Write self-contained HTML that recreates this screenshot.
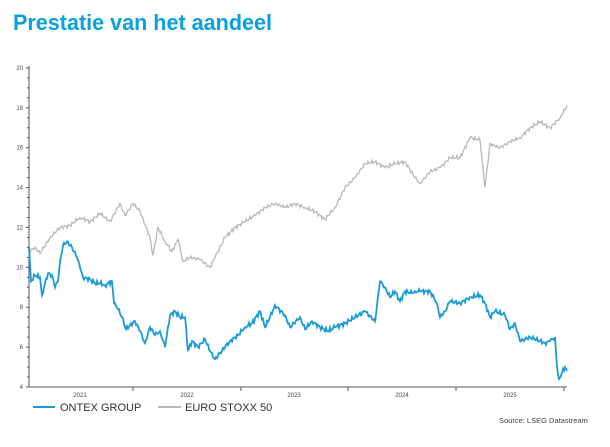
<!DOCTYPE html>
<html><head><meta charset="utf-8"><style>
html,body{margin:0;padding:0;background:#fff;}
body{width:610px;height:442px;overflow:hidden;}
</style></head><body>
<svg id="s" width="610" height="442" xmlns="http://www.w3.org/2000/svg" font-family="Liberation Sans, sans-serif">
<text x="13" y="30" font-size="22" font-weight="bold" fill="#0aa0e0" textLength="259" lengthAdjust="spacingAndGlyphs">Prestatie van het aandeel</text>
<g id="ax" stroke="#555" stroke-width="1" fill="none"></g>
<g id="lab" font-size="6" fill="#444"></g>
<path id="g" fill="none" stroke="#b8b8b8" stroke-width="1.3"/>
<path id="b" fill="none" stroke="#1a9ad6" stroke-width="1.8"/>
<line x1="33" y1="407" x2="55" y2="407" stroke="#1a9ad6" stroke-width="2"/>
<text x="60" y="411" font-size="11" fill="#333">ONTEX GROUP</text>
<line x1="158" y1="407" x2="181" y2="407" stroke="#b8b8b8" stroke-width="2"/>
<text x="185" y="411" font-size="11" fill="#333">EURO STOXX 50</text>
<text x="499" y="423" font-size="7.5" fill="#444">Source: LSEG Datastream</text>
</svg>
<script>
function Y(v){return 387-(v-4)*19.94;}
var ax=document.getElementById('ax'),lab=document.getElementById('lab'),h='',l='';
h+='<line x1="29" y1="66" x2="29" y2="387"/><line x1="29" y1="387" x2="567" y2="387"/>';
for(var v=4;v<=20;v+=0.5){var y=Y(v);h+='<line x1="'+(v%2==0?26:27)+'" y1="'+y+'" x2="29" y2="'+y+'"/>';if(v%2==0)l+='<text x="23" y="'+(y+2)+'" text-anchor="end">'+v+'</text>';}
[133,241,348,456,564].forEach(function(x){h+='<line x1="'+x+'" y1="387" x2="'+x+'" y2="391"/>';});
[[80,2021],[187,2022],[294,2023],[402,2024],[510,2025]].forEach(function(a){l+='<text x="'+a[0]+'" y="397" text-anchor="middle">'+a[1]+'</text>';});
ax.innerHTML=h;lab.innerHTML=l;
var G=[29,10.8,35,11.0,40,10.7,50,11.5,60,12.0,70,12.1,80,12.5,90,12.3,100,12.7,110,12.3,120,13.2,125,12.6,133,13.2,140,12.8,150,11.5,153,10.6,158,12.0,165,11.3,172,10.8,178,11.4,183,10.3,190,10.5,200,10.4,210,10.0,215,10.5,225,11.5,235,12.0,245,12.3,255,12.6,265,13.0,275,13.2,285,13.0,295,13.2,305,13.0,315,12.8,325,12.4,335,13.0,345,14.0,355,14.5,365,15.2,375,15.3,385,15.0,395,15.2,405,15.3,415,14.5,420,14.2,430,14.8,440,15.0,450,15.5,460,15.5,470,16.5,480,16.4,485,14.0,490,16.2,500,16.0,510,16.3,520,16.5,530,17.0,540,17.3,550,17.0,560,17.5,567,18.1];
var B=[29,11.0,31,9.3,35,9.6,40,9.5,42,8.6,45,9.2,48,9.7,52,9.6,55,9.0,58,9.3,60,10.3,63,11.1,67,11.3,72,11.0,77,10.5,80,10.0,83,9.5,90,9.4,95,9.2,100,9.2,105,9.1,112,9.3,114,8.2,118,7.9,122,7.5,126,6.9,130,7.1,135,7.3,140,6.8,145,6.2,150,7.0,155,6.6,160,6.8,165,6.0,170,7.6,175,7.8,180,7.5,185,7.5,188,5.8,192,6.3,198,6.0,205,6.4,210,5.8,215,5.4,220,5.7,225,6.0,230,6.3,238,6.6,245,7.0,252,7.2,260,7.8,265,7.0,270,7.5,275,8.1,285,7.6,290,7.0,300,7.5,305,6.9,312,7.3,320,7.0,328,6.8,335,7.0,345,7.2,355,7.5,365,7.8,375,7.3,380,9.3,385,9.0,390,8.5,395,8.8,400,8.3,405,8.8,410,8.7,415,8.8,420,8.8,430,8.8,437,8.2,440,7.5,445,7.8,450,8.3,460,8.2,470,8.5,480,8.6,485,8.2,490,7.5,495,7.8,505,7.6,510,6.9,515,7.2,520,6.3,530,6.5,540,6.3,545,6.2,550,6.3,555,6.5,557,5.0,559,4.4,562,4.7,565,5.0,567,4.8];
function path(a,amp,seed){var d='';for(var i=0;i<a.length-2;i+=2){var x0=a[i],v0=a[i+1],x1=a[i+2],v1=a[i+3];for(var x=x0;x<x1;x+=1){var t=(x-x0)/(x1-x0),v=v0+(v1-v0)*t;var n=(Math.sin(x*1.7+seed)+Math.sin(x*3.1+seed*2)*0.6)*amp;if(x==x0)n=0;d+=(d?'L':'M')+x+','+(Y(v)+n).toFixed(1);}}d+='L'+a[a.length-2]+','+Y(a[a.length-1]);return d;}
document.getElementById('g').setAttribute('d',path(G,1.3,1));
document.getElementById('b').setAttribute('d',path(B,1.5,3));
</script>
</body></html>
